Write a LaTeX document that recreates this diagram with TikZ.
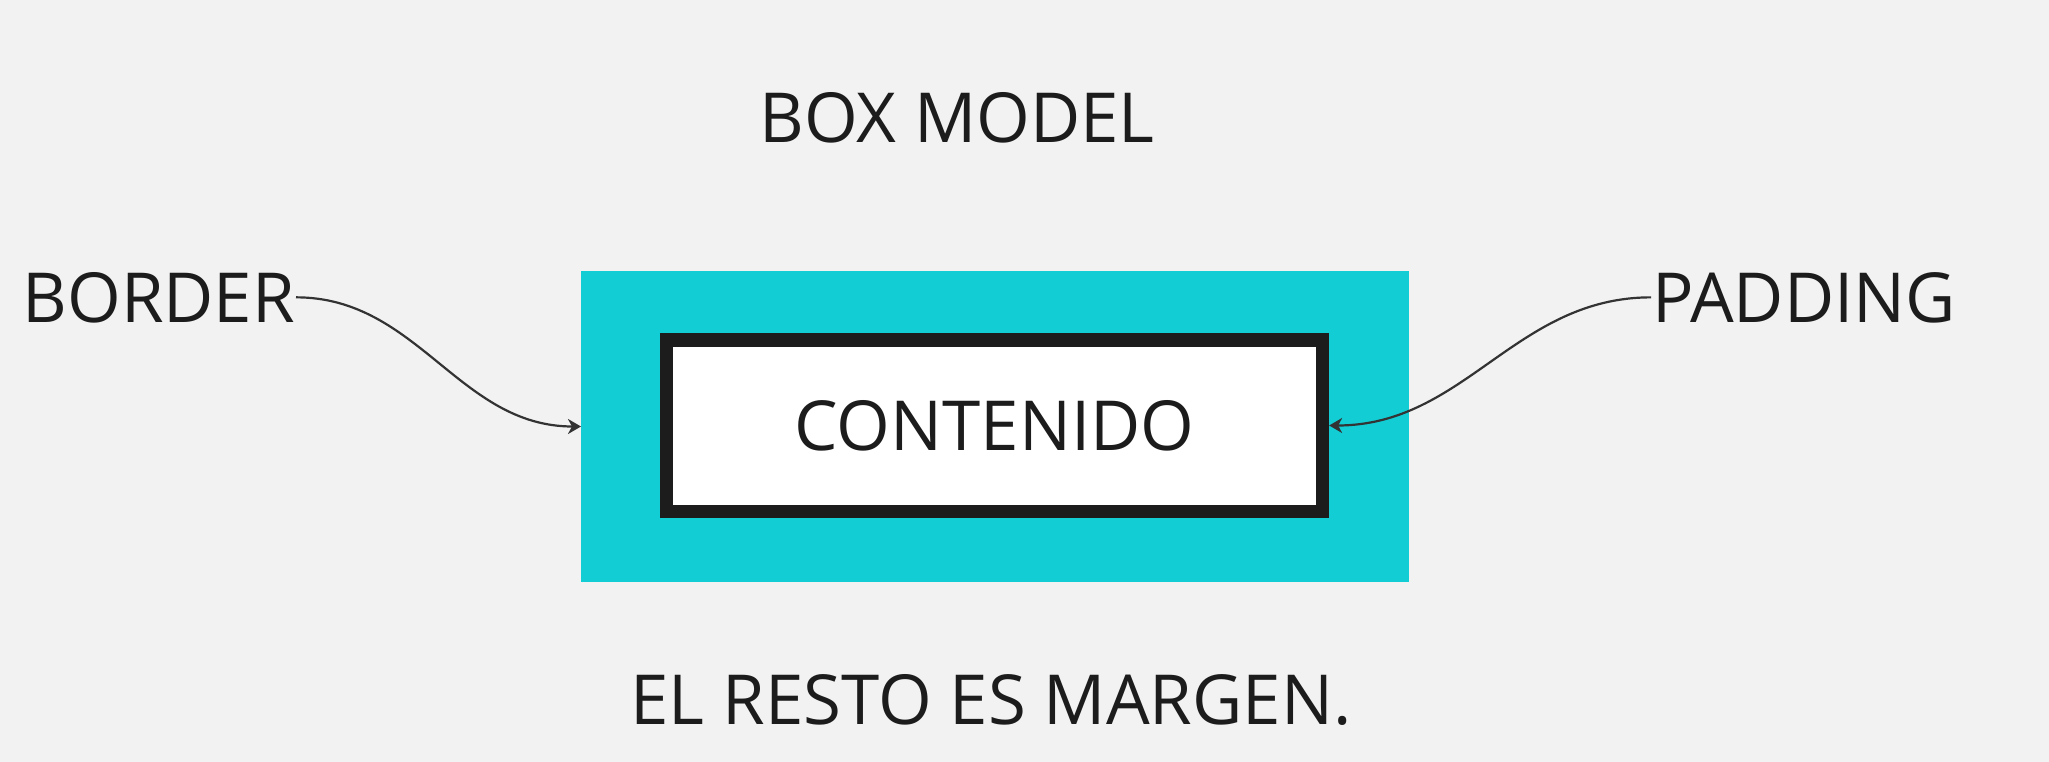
\documentclass[tikz,border=0pt]{standalone}
\usepackage{fontspec}
\setmainfont{Open Sans}
\usetikzlibrary{arrows.meta}
\definecolor{bgc}{HTML}{F2F2F2}
\definecolor{cyanc}{HTML}{13CDD4}
\definecolor{inkc}{HTML}{1C1C1C}
\definecolor{linec}{HTML}{333333}
\begin{document}
\begin{tikzpicture}[x=1pt,y=-1pt,
  lbl/.style={text=inkc, inner sep=0pt, outer sep=1pt, font=\fontsize{69}{83}\selectfont},
  padstyle/.style={fill=cyanc, inner sep=0pt, outer sep=0pt, minimum width=828pt, minimum height=311pt},
  contentbox/.style={draw=inkc, fill=white, line width=13.5pt, inner sep=0pt, minimum width=655.75pt, minimum height=171.5pt, text=inkc, font=\fontsize{69}{83}\selectfont},
  conn/.style={draw=linec, line width=2.2pt, -{Stealth[length=13pt,width=15pt,inset=4pt]}}]
\useasboundingbox (0,0) rectangle (2049,762);
\fill[bgc] (0,0) rectangle (2049,762);
\node[lbl, anchor=base] (title) at (957,143) {BOX MODEL};
\node[padstyle] (padbox) at (995,426.5) {};
\node[contentbox] (content) at (994.5,425.5) {CONTENIDO};
\node[lbl, anchor=base east] (border) at (296,322) {BORDER};
\node[lbl, anchor=base west] (padding) at (1651,322) {PADDING};
\node[lbl, anchor=base] (margin) at (991,724) {EL RESTO ES MARGEN.};
\draw[conn] (border.east) to[out=0,in=180] (padbox.west);
\draw[conn] (padding.west) to[out=180,in=0] (content.east);
\end{tikzpicture}
\end{document}
